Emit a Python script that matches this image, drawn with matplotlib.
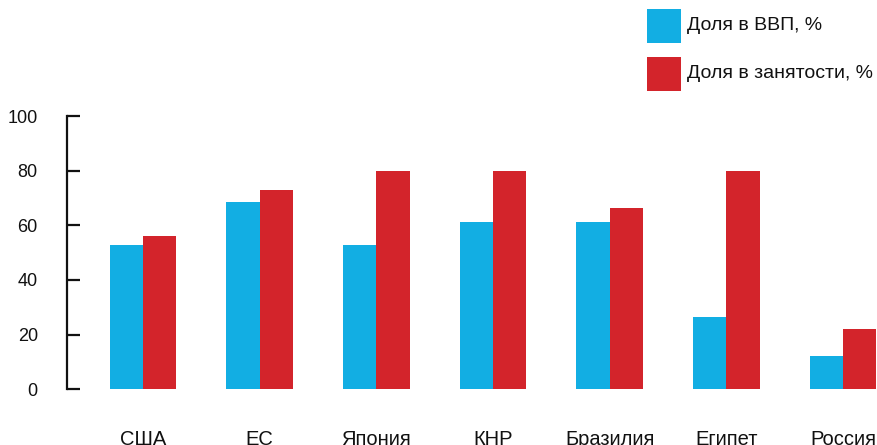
import numpy as np
import matplotlib
matplotlib.use("Agg")
import matplotlib.pyplot as plt
from matplotlib.patches import Rectangle

plt.rcParams["font.family"] = ["Liberation Sans", "DejaVu Sans"]

countries = ["США", "ЕС", "Япония", "КНР", "Бразилия", "Египет", "Россия"]
gdp_share = [52.8, 68.5, 52.8, 61.2, 61.2, 26.5, 12.2]
employment_share = [56.1, 72.9, 80.0, 80.0, 66.3, 80.0, 22.1]
series_labels = ["Доля в ВВП, %", "Доля в занятости, %"]
yticks = [0, 20, 40, 60, 80, 100]

BLUE = "#12AEE3"
RED = "#D3242B"
W, H = 878, 445


def add_legend(fig):
    # squares 34px, stacked with a 14px gap, top-right of the figure
    for i, (label, color) in enumerate(zip(series_labels, [BLUE, RED])):
        top = 9 + i * 48
        fig.add_artist(Rectangle((647 / W, 1 - (top + 34) / H), 34 / W, 34 / H,
                                 transform=fig.transFigure, facecolor=color,
                                 edgecolor="none"))
        fig.text(687 / W, 1 - (top + 17) / H, label, fontsize=14,
                 color="#111111", va="center", ha="left")


def main():
    fig = plt.figure(figsize=(W / 100, H / 100), dpi=100)
    ax = fig.add_axes([0.0763, 0.1252, 0.9237, 0.6141])

    x = np.arange(len(countries))
    w = 0.2857
    ax.bar(x - w / 2, gdp_share, width=w, color=BLUE, linewidth=0)
    ax.bar(x + w / 2, employment_share, width=w, color=RED, linewidth=0)

    ax.set_xlim(-0.651, 6.30)
    ax.set_ylim(0, 100)
    ax.set_yticks(yticks)
    ax.set_xticks(x)
    ax.set_xticklabels(countries, fontsize=14.5, color="#111111")

    for side in ["top", "right", "bottom"]:
        ax.spines[side].set_visible(False)
    ax.spines["left"].set_linewidth(1.6)
    ax.spines["left"].set_color("#111111")

    ax.tick_params(axis="y", direction="in", length=9.4, width=1.6,
                   color="#111111", labelsize=13, labelcolor="#111111", pad=21)
    ax.tick_params(axis="x", length=0, pad=29)

    add_legend(fig)

    fig.savefig("out.png", dpi=100)
    plt.close(fig)


if __name__ == "__main__":
    main()
